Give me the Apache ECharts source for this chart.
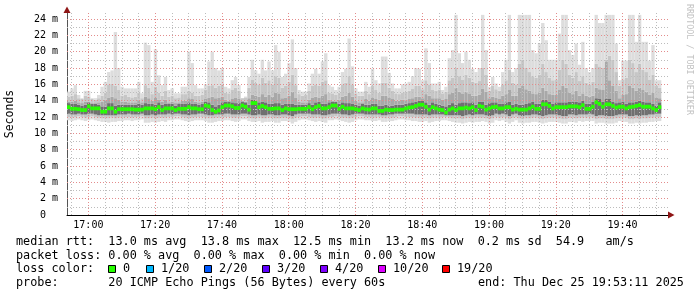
<!DOCTYPE html>
<html><head><meta charset="utf-8">
<script src="https://cdn.jsdelivr.net/npm/echarts@6/dist/echarts.min.js"></script>
<style>html,body{margin:0;padding:0;background:#fff}#c{width:697px;height:297px}</style>
</head><body><div id="c"></div>
<script>
// ---- data (ms), one value per minute starting 16:53 ----
const medianRtt = [
13.2,13.0,13.0,12.95,12.85,12.85,13.3,13.05,13.05,13.05,
12.65,12.65,13.05,13.05,12.65,12.95,12.95,12.95,12.95,12.95,
12.9,12.9,12.9,13.05,13.05,13.05,12.95,13.2,12.85,13.05,
13.05,13.05,12.85,13.0,13.0,13.0,13.2,13.05,13.05,12.95,
12.95,13.4,13.3,12.85,12.65,
12.8,13.2,13.4,13.4,13.3,13.1,13.1,13.4,13.25,12.9,
13.7,13.7,13.2,13.35,13.2,13.0,13.0,13.05,13.05,12.85,
13.05,12.95,12.95,12.95,13.0,13.0,13.0,13.2,12.95,13.2,
13.35,13.05,13.05,13.2,13.4,13.4,13.0,13.25,13.05,13.05,
13.05,12.95,12.85,13.05,12.95,
12.9,13.05,13.05,12.75,12.75,12.9,12.85,12.85,12.9,12.9,
12.9,13.05,13.15,13.2,13.35,13.5,13.5,13.25,12.9,13.2,
13.05,12.9,12.85,12.55,12.9,13.05,12.85,13.05,13.05,13.15,
13.05,13.2,12.85,13.35,13.25,12.9,13.05,13.2,13.25,13.05,
13.05,13.2,13.2,12.9,13.0,
12.9,12.9,12.9,13.05,13.26,13.0,13.0,13.55,13.55,13.35,
13.05,13.2,13.2,13.2,13.2,13.3,13.3,13.3,13.2,13.45,
13.0,13.0,13.26,13.8,13.6,13.26,13.55,13.55,13.35,13.15,
13.26,13.26,13.05,13.2,13.26,13.35,13.45,13.26,13.26,13.26,
13.05,12.85,13.2];
const maxRtt = [
15.1,15.5,15.9,14.7,14.3,15.2,15.2,14.3,14.3,14.7,
15.7,16.3,17.5,17.7,22.4,18.0,15.7,15.5,15.5,15.5,
15.5,16.3,14.9,21.1,20.8,16.3,20.3,17.1,15.9,16.9,
15.3,15.5,14.9,14.9,15.7,15.7,20.0,18.6,15.9,15.5,
15.5,16.0,18.8,20.0,18.0,
17.7,18.0,15.7,15.5,16.5,16.9,15.9,14.3,14.5,16.9,
19.0,17.7,17.3,19.0,17.7,18.8,17.7,20.8,20.0,16.9,
17.3,18.6,21.5,18.0,15.3,15.1,15.1,16.1,17.3,17.9,
17.3,18.8,19.8,15.9,15.7,15.3,15.7,17.5,17.9,21.6,
18.2,15.5,15.1,15.1,16.3,
15.7,17.9,16.5,16.1,19.4,19.4,17.4,16.1,15.5,15.5,
16.0,16.1,16.3,17.0,18.0,17.9,16.5,20.4,18.6,16.1,
16.1,16.3,15.3,15.7,19.2,20.2,24.5,19.8,18.6,20.0,
19.0,17.9,17.5,18.0,24.5,20.2,15.7,16.9,16.1,15.7,
17.5,19.0,24.5,17.5,18.0,
24.5,24.5,24.5,24.5,20.2,19.8,21.0,23.5,21.4,19.0,
19.0,19.0,22.2,24.5,24.5,20.2,19.6,21.0,18.4,21.2,
18.0,17.5,18.0,24.5,23.5,23.5,24.5,24.5,24.5,21.0,
16.5,18.9,18.9,24.5,24.5,21.2,24.5,21.2,21.2,18.9,
20.8,16.5,16.5];
const upper2 = [
14.5,14.6,14.8,14.3,14.2,14.6,14.5,14.2,14.1,14.3,
14.6,15.0,16.0,16.1,15.8,15.3,14.6,14.7,14.5,14.4,
14.5,15.0,14.3,15.9,15.6,14.8,15.7,15.0,14.6,15.2,
14.5,14.6,14.3,14.4,14.8,14.8,15.2,15.0,14.6,14.6,
14.7,15.3,15.8,15.9,15.6,
15.8,16.0,15.0,14.9,15.3,15.6,15.2,14.3,14.4,15.6,
16.6,16.2,16.0,16.8,16.2,16.5,16.0,17.0,16.8,15.6,
15.8,16.3,17.2,15.9,14.8,14.6,14.7,15.2,15.8,16.0,
15.8,16.3,16.5,15.0,14.9,14.7,15.0,16.0,16.2,17.0,
16.0,14.9,14.6,14.6,15.2,
14.8,15.8,15.3,15.0,16.2,16.2,15.6,15.2,14.9,14.8,
15.0,15.1,15.2,15.5,15.8,15.8,15.4,16.5,16.0,15.3,
15.2,15.3,14.9,15.1,16.5,16.8,18.0,17.0,16.6,17.2,
16.8,16.3,16.2,16.4,18.0,17.2,15.2,15.8,15.4,15.2,
16.0,16.5,17.8,16.2,16.0,
18.5,19.0,18.0,17.5,17.0,16.8,17.2,18.5,17.5,16.8,
16.5,16.6,17.8,19.0,18.5,17.2,16.8,17.5,16.4,17.0,
16.2,16.0,16.3,18.5,18.2,18.0,19.0,19.5,19.0,17.5,
15.8,16.6,16.8,19.0,18.6,17.5,18.5,17.8,17.5,16.6,
17.2,15.8,15.6];
const upper3 = [
13.9,13.9,14.0,13.8,13.7,13.9,13.9,13.7,13.7,13.8,
13.9,14.1,14.4,14.5,14.3,14.1,13.9,13.9,13.8,13.8,
13.8,14.1,13.8,14.5,14.3,14.0,14.4,14.1,13.9,14.1,
13.8,13.9,13.7,13.8,14.0,14.0,14.3,14.2,13.9,13.8,
13.9,14.2,14.4,14.5,14.3,
14.4,14.5,14.1,14.0,14.2,14.4,14.2,14.0,13.9,14.3,
14.7,14.6,14.5,14.8,14.5,14.7,14.5,15.0,14.9,14.3,
14.4,14.6,15.1,14.4,13.9,13.8,13.8,14.1,14.4,14.5,
14.4,14.6,14.8,14.1,14.0,13.9,14.1,14.5,14.6,15.0,
14.5,14.0,13.8,13.8,14.2,
14.0,14.4,14.2,14.1,14.6,14.6,14.4,14.2,14.0,14.0,
14.1,14.1,14.2,14.3,14.5,14.5,14.3,14.8,14.6,14.3,
14.3,14.3,14.1,14.2,14.8,15.0,15.6,15.1,14.9,15.1,
14.9,14.6,14.6,14.7,15.5,15.1,14.3,14.5,14.4,14.2,
14.6,14.8,15.3,14.6,14.6,
15.6,15.8,15.4,15.2,14.9,14.8,15.0,15.6,15.2,14.8,
14.7,14.7,15.3,15.8,15.6,15.0,14.8,15.2,14.6,14.9,
14.6,14.5,14.6,15.6,15.4,15.3,18.8,16.5,15.8,15.2,
14.3,14.7,14.8,15.8,15.6,15.2,15.6,15.3,15.1,14.7,
15.0,14.4,14.3];
const upper4 = [
13.7,13.6,13.6,13.5,13.4,13.5,13.8,13.6,13.6,13.5,
13.3,13.3,13.7,13.7,13.4,13.5,13.5,13.5,13.5,13.5,
13.5,13.6,13.5,13.7,13.6,13.6,13.5,13.8,13.5,13.6,
13.6,13.6,13.4,13.6,13.6,13.6,13.8,13.6,13.6,13.5,
13.6,13.9,13.8,13.5,13.3,
13.5,13.8,13.9,13.9,13.8,13.7,13.7,13.9,13.8,13.5,
14.1,14.1,13.8,13.9,13.8,13.6,13.6,13.7,13.7,13.5,
13.6,13.6,13.6,13.5,13.5,13.5,13.5,13.7,13.5,13.8,
13.9,13.6,13.6,13.8,13.9,13.9,13.6,13.8,13.7,13.7,
13.6,13.5,13.4,13.6,13.5,
13.5,13.6,13.6,13.4,13.4,13.5,13.4,13.4,13.5,13.5,
13.5,13.6,13.7,13.8,13.9,14.0,14.0,13.8,13.5,13.8,
13.6,13.5,13.4,13.3,13.5,13.7,13.5,13.7,13.8,13.8,
13.7,13.8,13.5,13.9,13.9,13.5,13.7,13.8,13.8,13.6,
13.6,13.8,13.9,13.5,13.6,
13.5,13.5,13.6,13.7,13.9,13.6,13.6,14.1,14.1,13.9,
13.6,13.8,13.8,13.8,13.8,13.9,13.9,13.9,13.8,14.0,
13.6,13.6,13.9,14.3,14.2,13.9,14.2,14.2,13.9,13.7,
13.8,13.9,13.6,13.8,13.8,13.9,14.0,13.9,13.8,13.8,
13.6,13.4,13.8];
const lower3 = [
12.4,12.3,12.3,12.4,12.3,12.3,12.4,12.4,12.3,12.2,
12.2,12.2,12.2,12.2,12.2,12.3,12.3,12.3,12.4,12.3,
12.3,12.3,12.4,12.2,12.2,12.3,12.2,12.3,12.3,12.3,
12.4,12.3,12.4,12.4,12.3,12.3,12.2,12.3,12.3,12.4,
12.4,12.3,12.2,12.2,12.3,
12.3,12.3,12.4,12.4,12.3,12.3,12.3,12.4,12.4,12.3,
12.2,12.2,12.3,12.2,12.2,12.3,12.3,12.2,12.2,12.3,
12.3,12.2,12.1,12.3,12.4,12.4,12.4,12.4,12.3,12.3,
12.3,12.2,12.2,12.3,12.4,12.4,12.4,12.3,12.3,12.2,
12.3,12.4,12.4,12.4,12.3,
12.3,12.3,12.3,12.3,12.2,12.2,12.3,12.3,12.4,12.4,
12.4,12.4,12.4,12.4,12.3,12.3,12.3,12.3,12.2,12.3,
12.3,12.3,12.3,12.2,12.2,12.2,12.2,12.2,12.1,12.2,
12.3,12.2,12.3,12.3,12.3,12.2,12.1,12.2,12.4,12.3,
12.4,12.3,12.1,12.3,12.4,
12.2,12.1,12.2,12.2,12.3,12.3,12.2,12.1,12.2,12.3,
12.3,12.3,12.2,12.1,12.1,12.3,12.3,12.2,12.3,12.3,
12.3,12.4,12.3,12.1,12.2,12.2,12.1,12.1,12.1,12.2,
12.3,12.3,12.3,12.1,12.1,12.2,12.1,12.2,12.2,12.3,
12.3,12.4,12.4];
const lower2 = [
12.0,11.9,12.0,12.1,12.0,11.9,12.0,12.1,12.0,11.9,
11.8,11.8,11.8,11.9,11.8,11.9,11.9,12.0,12.0,11.9,
12.0,12.0,12.1,11.8,11.8,11.9,11.8,11.9,11.9,11.9,
12.0,12.0,12.1,12.1,12.0,11.9,11.8,11.9,12.0,12.0,
12.0,11.9,11.8,11.8,11.9,
11.9,11.9,12.0,12.0,11.9,11.9,11.9,12.1,12.1,11.9,
11.8,11.8,11.9,11.8,11.8,11.9,11.9,11.8,11.8,11.9,
11.9,11.8,11.7,11.9,12.0,12.1,12.1,12.0,11.9,11.9,
11.9,11.8,11.8,12.0,12.0,12.1,12.0,11.9,11.9,11.8,
11.9,12.0,12.1,12.1,12.0,
12.0,11.9,11.9,12.0,11.9,11.8,11.9,11.9,12.0,12.1,
12.1,12.0,12.0,12.0,11.9,11.9,11.9,11.9,11.8,11.9,
11.9,11.9,12.0,12.0,11.9,11.8,11.8,11.8,11.7,11.8,
11.9,11.8,11.9,11.9,11.9,11.8,11.7,11.8,12.0,11.9,
12.0,11.9,11.7,11.9,12.0,
11.8,11.7,11.8,11.8,11.9,11.9,11.8,11.7,11.8,11.9,
11.9,11.9,11.8,11.7,11.7,11.9,11.9,11.8,11.9,11.9,
11.9,12.0,11.9,11.7,11.8,11.8,11.7,11.7,11.7,11.8,
11.9,11.9,11.9,11.7,11.7,11.8,11.7,11.8,11.8,11.9,
11.9,12.0,12.0];
const minRtt = [
11.6,11.5,11.6,11.7,11.6,11.5,11.6,11.7,11.6,11.5,
11.4,11.4,11.3,11.4,11.4,11.5,11.5,11.6,11.6,11.5,
11.6,11.6,11.7,11.3,11.3,11.4,11.3,11.4,11.5,11.4,
11.6,11.6,11.7,11.7,11.6,11.5,11.4,11.5,11.6,11.6,
11.6,11.5,11.3,11.3,11.4,
11.5,11.5,11.6,11.6,11.5,11.4,11.5,11.7,11.7,11.5,
11.4,11.4,11.5,11.3,11.4,11.4,11.5,11.3,11.3,11.5,
11.5,11.4,11.2,11.4,11.6,11.7,11.7,11.6,11.5,11.4,
11.5,11.4,11.3,11.6,11.6,11.7,11.6,11.5,11.4,11.3,
11.4,11.6,11.7,11.7,11.6,
11.6,11.5,11.5,11.6,11.4,11.4,11.5,11.5,11.6,11.7,
11.7,11.6,11.6,11.5,11.5,11.4,11.4,11.5,11.3,11.4,
11.5,11.5,11.6,11.6,11.5,11.4,11.3,11.3,11.2,11.3,
11.4,11.3,11.4,11.4,11.5,11.4,11.2,11.3,11.6,11.5,
11.6,11.4,11.2,11.4,11.6,
11.3,11.2,11.3,11.3,11.4,11.4,11.3,11.2,11.3,11.4,
11.4,11.4,11.3,11.2,11.2,11.4,11.4,11.3,11.5,11.4,
11.5,11.5,11.5,11.2,11.3,11.3,11.2,11.2,11.2,11.3,
11.5,11.4,11.4,11.2,11.2,11.3,11.2,11.3,11.3,11.4,
11.4,11.5,11.5];

// ---- axis / ticks ----
const slots = 180;                 // minutes shown
const axisStart = 53.6;            // minutes after 16:00 at left edge
const yMajorTicks = [2,4,6,8,10,12,14,16,18,20,22,24];
const yMinorTicks = [1,3,5,7,9,11,13,15,17,19,21,23];
const xMajorTicks = [60,80,100,120,140,160,180,200,220];
const xTickLabels = ['17:00','17:20','17:40','18:00','18:20','18:40','19:00','19:20','19:40'];
const xMinorTicks = [55,65,70,75,85,90,95,105,110,115,125,130,135,145,150,155,165,170,175,185,190,195,205,210,215,225,230];

const statLines = [
  'median rtt:  13.0 ms avg  13.8 ms max  12.5 ms min  13.2 ms now  0.2 ms sd  54.9   am/s',
  'packet loss: 0.00 % avg  0.00 % max  0.00 % min  0.00 % now',
  'loss color:',
  'probe:       20 ICMP Echo Pings (56 Bytes) every 60s'
];
const endText = 'end: Thu Dec 25 19:53:11 2025';
const lossLabels = ['0','1/20','2/20','3/20','4/20','10/20','19/20'];
const lossColors = ['#26ff00','#00b8ff','#0059ff','#5e00ff','#7e00ff','#dd00ff','#ff0000'];

// ---- build ----
const MONO = 'DejaVu Sans Mono';
const pad = a => a.concat(new Array(slots - a.length).fill(null));
const levels = [minRtt, lower2, lower3, upper4, upper3, upper2, maxRtt];
const cum = [];
levels.forEach((arr, k) => {
  cum.push(arr.map((v, i) => k === 0 ? v : Math.max(v, cum[k - 1][i])));
});
const smokeColors = ['#dddddd', '#c6c6c6', '#707070', '#a8a8a8', '#c6c6c6', '#dddddd'];
const categories = Array.from({length: slots}, (_, i) => String(i));
const series = [];
series.push({type: 'bar', stack: 'smoke', data: pad(cum[0]), itemStyle: {color: 'rgba(0,0,0,0)'}, silent: true});
for (let k = 1; k < cum.length; k++) {
  series.push({type: 'bar', stack: 'smoke', silent: true,
    data: pad(cum[k].map((v, i) => +(v - cum[k - 1][i]).toFixed(3))),
    itemStyle: {color: smokeColors[k - 1]}});
}
const halfLine = 0.23;
series.push({type: 'bar', stack: 'med', silent: true, z: 6, data: pad(medianRtt.map(v => +(v - halfLine).toFixed(3))), itemStyle: {color: 'rgba(0,0,0,0)'}});
series.push({type: 'bar', stack: 'med', silent: true, z: 6, data: pad(medianRtt.map(() => 2 * halfLine)), itemStyle: {color: '#26ff00'}});
series.forEach(s => { s.barGap = '-100%'; s.barCategoryGap = '0%'; s.xAxisIndex = 0; s.yAxisIndex = 0; s.animation = false; });

const gridColorMinor = '#bcbcbc', gridColorMajor = '#e38c8c';
const dot = [1, 2];
const markData = [];
yMinorTicks.forEach(v => markData.push({yAxis: v, lineStyle: {color: gridColorMinor, type: dot, width: 1}}));
yMajorTicks.forEach(v => markData.push({yAxis: v, lineStyle: {color: gridColorMajor, type: dot, width: 1}}));
xMinorTicks.forEach(v => markData.push({xAxis: v, lineStyle: {color: gridColorMinor, type: dot, width: 1}}));
xMajorTicks.forEach(v => markData.push({xAxis: v, lineStyle: {color: gridColorMajor, type: dot, width: 1}}));
series.push({type: 'line', xAxisIndex: 1, yAxisIndex: 0, data: [[axisStart, 0]], symbol: 'none', lineStyle: {opacity: 0}, z: 5, animation: false, silent: true,
  markLine: {silent: true, animation: false, symbol: ['none', 'none'], label: {show: false}, emphasis: {disabled: true}, data: markData}});

const graphics = [];
graphics.push({type: 'polygon', shape: {points: [[63.5, 13], [70.5, 13], [67, 6.5]]}, style: {fill: '#8f1515'}, z: 100});
graphics.push({type: 'polygon', shape: {points: [[668, 211.5], [668, 218.5], [674.5, 215]]}, style: {fill: '#8f1515'}, z: 100});
const lineY = [241.5, 255.5, 269, 282.5];
statLines.forEach((t, k) => graphics.push({type: 'text', x: 16, y: lineY[k], style: {text: t, font: '11.8px "' + MONO + '"', fill: '#000', textVerticalAlign: 'middle'}}));
graphics.push({type: 'text', x: 478, y: lineY[3], style: {text: endText, font: '11.8px "' + MONO + '"', fill: '#000', textVerticalAlign: 'middle'}});
const sqX = [108, 146, 204, 262, 320, 378, 442];
lossLabels.forEach((lab, k) => {
  graphics.push({type: 'rect', shape: {x: sqX[k] + 0.5, y: 265.5, width: 7, height: 7}, style: {fill: lossColors[k], stroke: '#000', lineWidth: 1}});
  graphics.push({type: 'text', x: sqX[k] + 15, y: lineY[2], style: {text: lab, font: '11.8px "' + MONO + '"', fill: '#000', textVerticalAlign: 'middle'}});
});
graphics.push({type: 'text', x: 689, y: 4, rotation: -Math.PI / 2, style: {text: 'RRDTOOL / TOBI OETIKER', font: '8.4px "' + MONO + '"', fill: '#c2c2c2', textVerticalAlign: 'middle'}});

const chart = echarts.init(document.getElementById('c'), null, {renderer: 'canvas'});
chart.setOption({
  animation: false,
  backgroundColor: '#fff',
  grid: {left: 67, right: 29, top: 13, bottom: 82, containLabel: false, outerBoundsMode: 'none'},
  xAxis: [
    {type: 'category', data: categories, show: false, boundaryGap: true},
    {type: 'value', min: axisStart, max: axisStart + slots, position: 'bottom',
      axisLine: {show: true, onZero: false, lineStyle: {color: '#000', width: 1}},
      axisTick: {show: false}, splitLine: {show: false},
      axisLabel: {customValues: xMajorTicks, margin: 5, color: '#000', fontFamily: MONO, fontSize: 10,
        formatter: v => xTickLabels[xMajorTicks.indexOf(Math.round(v))] || ''}}
  ],
  yAxis: [{type: 'value', min: 0, max: 24.73, interval: 2,
    splitLine: {show: false},
    axisLine: {show: true, lineStyle: {color: '#555555'}},
    axisTick: {show: false},
    axisLabel: {showMaxLabel: false, margin: 9, color: '#000', fontFamily: MONO, fontSize: 10,
      formatter: v => v === 0 ? '0  ' : (Math.abs(v % 2) < 1e-9 ? v + ' m' : '')},
    name: 'Seconds', nameLocation: 'middle', nameGap: 51, nameRotate: 90,
    nameTextStyle: {fontFamily: MONO, fontSize: 11.5, color: '#000'}}],
  series: series,
  graphic: graphics
});
</script></body></html>
